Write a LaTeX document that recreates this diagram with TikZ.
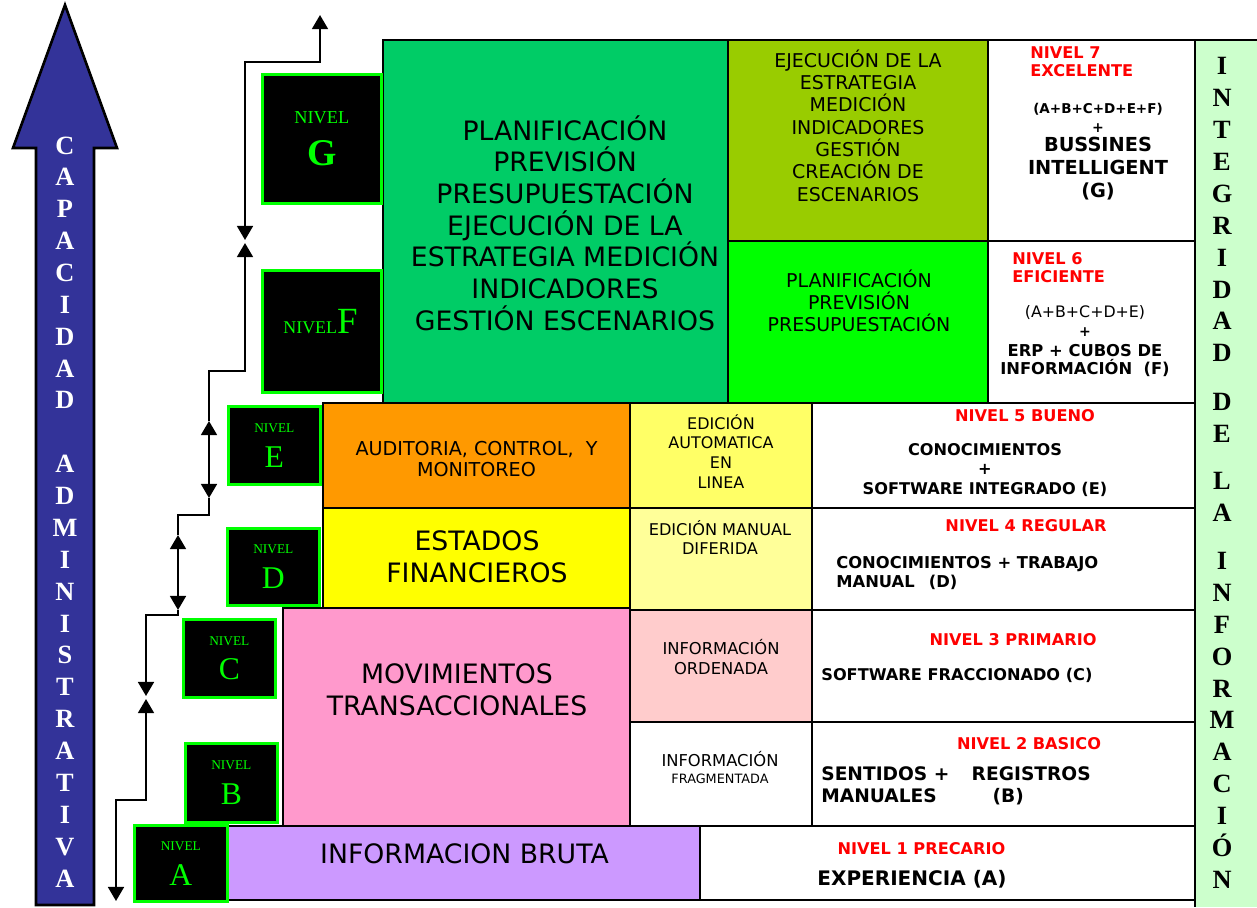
\documentclass[tikz,border=0pt]{standalone}
\usepackage{fontspec}
\setmainfont{DejaVu Sans}
\newfontfamily\timesf{Liberation Serif}
\usetikzlibrary{arrows.meta}

\definecolor{verdeplan}{HTML}{00CC66}
\definecolor{oliva}{HTML}{99CC00}
\definecolor{verdevivo}{HTML}{00FF00}
\definecolor{naranja}{HTML}{FF9900}
\definecolor{amarillo}{HTML}{FFFF00}
\definecolor{amarillob}{HTML}{FFFF66}
\definecolor{amarilloc}{HTML}{FFFF99}
\definecolor{rosa}{HTML}{FF99CC}
\definecolor{rosab}{HTML}{FFCCCC}
\definecolor{lila}{HTML}{CC99FF}
\definecolor{verdeclaro}{HTML}{CCFFCC}
\definecolor{azul}{HTML}{333399}
\definecolor{rojo}{HTML}{FF0000}

\tikzset{punta/.tip={Triangle[width=9pt,length=8pt]}}

\begin{document}
\begin{tikzpicture}[
    x=0.02cm, y=-0.02cm,
    cell/.style={rectangle, draw=black, line width=1.5pt, inner sep=0pt, outer sep=0pt, anchor=north west},
    sz/.style 2 args={minimum width=#1*0.02cm, minimum height=#2*0.02cm},
    nivel/.style={rectangle, fill=black, draw=verdevivo, line width=1.5pt, inner sep=0pt,
                  anchor=north west, text=verdevivo},
    txt/.style={inner sep=0pt, align=center},
    grande/.style={txt, anchor=north, font=\fontsize{15.2}{18.05}\selectfont},
    medio/.style={txt, anchor=north, font=\fontsize{10.8}{12.7}\selectfont},
    chico/.style={txt, anchor=north, font=\fontsize{9.2}{11.2}\selectfont},
    titulo/.style={inner sep=0pt, text=rojo, font=\bfseries\fontsize{9.2}{10.3}\selectfont},
    negrita/.style={inner sep=0pt, font=\bfseries\fontsize{9.2}{11}\selectfont},
    vertical/.style={inner sep=0pt, align=center, anchor=north,
                     font=\timesf\bfseries\fontsize{15}{18.14}\selectfont},
    arrow/.style={line width=1.3pt}
]
    \useasboundingbox (0,0) rectangle (1257,907);

    % Side bars
    \draw[fill=azul, line width=1.5pt] (36,905) -- (36,148) -- (13,148) -- (65,5)
        -- (117,148) -- (94,148) -- (94,905) -- cycle;
    \node (capacidad) [vertical, text=white] at (65,136.2)
        {C\\A\\P\\A\\C\\I\\D\\A\\D\\[18.14pt]A\\D\\M\\I\\N\\I\\S\\T\\R\\A\\T\\I\\V\\A};
    \fill[verdeclaro] (1195,40) rectangle (1257,907);
    \draw[line width=1.5pt] (1257,40) -- (1195,40) -- (1195,907);
    \node (integridad) [vertical] at (1222,57.3)
        {I\\N\\T\\E\\G\\R\\I\\D\\A\\D\\[9.4pt]D\\E\\[9.1pt]L\\A\\[9.1pt]I\\N\\F\\O\\R\\M\\A\\C\\I\\Ó\\N};

    % Cells
    \node (gPlan) [cell, fill=verdeplan, sz={345}{363}] at (383,40) {};
    \node (gEjec) [cell, fill=oliva, sz={260}{201}] at (728,40) {};
    \node (gNivel) [cell, fill=white, sz={207}{201}] at (988,40) {};
    \node (fPlan) [cell, fill=verdevivo, sz={260}{162}] at (728,241) {};
    \node (fNivel) [cell, fill=white, sz={207}{162}] at (988,241) {};
    \node (eAudit) [cell, fill=naranja, sz={307}{105}] at (323,403) {};
    \node (eEdic) [cell, fill=amarillob, sz={182}{105}] at (630,403) {};
    \node (eNivel) [cell, fill=white, sz={383}{105}] at (812,403) {};
    \node (dEstados) [cell, fill=amarillo, sz={307}{100}] at (323,508) {};
    \node (dEdic) [cell, fill=amarilloc, sz={182}{102}] at (630,508) {};
    \node (dNivel) [cell, fill=white, sz={383}{102}] at (812,508) {};
    \node (cMov) [cell, fill=rosa, sz={347}{218}] at (283,608) {};
    \node (cInfo) [cell, fill=rosab, sz={182}{112}] at (630,610) {};
    \node (cNivel) [cell, fill=white, sz={383}{112}] at (812,610) {};
    \node (bInfo) [cell, fill=white, sz={182}{104}] at (630,722) {};
    \node (bNivel) [cell, fill=white, sz={383}{104}] at (812,722) {};
    \node (aBruta) [cell, fill=lila, sz={472}{74}] at (228,826) {};
    \node (aNivel) [cell, fill=white, sz={495}{74}] at (700,826) {};

    % Cell texts
    \node (tPlan) [grande] at (565,115) {PLANIFICACIÓN\\PREVISIÓN\\PRESUPUESTACIÓN\\EJECUCIÓN DE LA\\ESTRATEGIA MEDICIÓN\\INDICADORES\\GESTIÓN ESCENARIOS};
    \node (tEjec) [medio] at (858,49.4) {EJECUCIÓN DE LA\\ESTRATEGIA\\MEDICIÓN\\INDICADORES\\GESTIÓN\\CREACIÓN DE\\ESCENARIOS};
    \node (tPrev) [medio] at (859,269.4) {PLANIFICACIÓN\\PREVISIÓN\\PRESUPUESTACIÓN};
    \node (tAudit) [medio, font=\fontsize{10.9}{11.9}\selectfont] at (476.5,441) {AUDITORIA, CONTROL,\ \ Y\\MONITOREO};
    \node (tAuto) [chico, font=\fontsize{9.1}{11.15}\selectfont] at (721,414.1) {EDICIÓN\\AUTOMATICA\\EN\\LINEA};
    \node (tManual) [chico, font=\fontsize{9.2}{10.8}\selectfont] at (720,520) {EDICIÓN MANUAL\\DIFERIDA};
    \node (tEstados) [grande] at (477,530.25) {ESTADOS\\FINANCIEROS};
    \node (tMov) [grande] at (457,663.25) {MOVIMIENTOS\\TRANSACCIONALES};
    \node (tOrden) [chico, font=\fontsize{9.3}{11.3}\selectfont] at (721,638.9) {INFORMACIÓN\\ORDENADA};
    \node (tFrag) [chico, font=\fontsize{9.3}{10}\selectfont] at (720,750.9) {INFORMACIÓN\\{\fontsize{7.3}{8}\selectfont FRAGMENTADA}};
    \node (tBruta) [txt, anchor=base, font=\fontsize{15.2}{18}\selectfont] at (464.5,863.75) {INFORMACION BRUTA};

    % Level descriptions
    \node (n7) [titulo, align=left, anchor=north west] at (1030,46) {NIVEL 7\\EXCELENTE};
    \node (f7) [negrita, font=\bfseries\fontsize{7.7}{9}\selectfont, anchor=base] at (1098,113) {(A+B+C+D+E+F)};
    \node (mas7) [negrita, font=\bfseries\fontsize{8}{9}\selectfont, anchor=base] at (1098,132) {+};
    \node (bi7) [negrita, align=center, anchor=north, font=\bfseries\fontsize{11}{13}\selectfont] at (1098,137) {BUSSINES\\INTELLIGENT\\(G)};

    \node (n6) [titulo, align=left, anchor=north west] at (1012,252) {NIVEL 6\\EFICIENTE};
    \node (f6) [txt, anchor=base, font=\fontsize{9}{11}\selectfont] at (1085,317.8) {(A+B+C+D+E)};
    \node (mas6) [negrita, font=\bfseries\fontsize{8}{9}\selectfont, anchor=base] at (1085,336.8) {+};
    \node (erp6) [negrita, align=center, anchor=north, font=\bfseries\fontsize{9.3}{10.2}\selectfont] at (1085,344) {ERP + CUBOS DE\\INFORMACIÓN\ \ (F)};

    \node (n5) [titulo, anchor=base] at (1025,421.85) {NIVEL 5 BUENO};
    \node (con5) [negrita, align=center, anchor=north] at (985,443.1) {CONOCIMIENTOS\\+\\SOFTWARE INTEGRADO (E)};

    \node (n4) [titulo, anchor=base] at (1026,531.85) {NIVEL 4 REGULAR};
    \node (con4) [negrita, align=left, anchor=north west, font=\bfseries\fontsize{9.3}{10.8}\selectfont] at (836,556.1) {CONOCIMIENTOS + TRABAJO\\\makebox[52.7pt][l]{MANUAL}(D)};

    \node (n3) [titulo, anchor=base] at (1013,645.85) {NIVEL 3 PRIMARIO};
    \node (sw3) [negrita, anchor=base west] at (821,680.9) {SOFTWARE FRACCIONADO (C)};

    \node (n2) [titulo, anchor=base] at (1029,749.85) {NIVEL 2 BASICO};
    \node (sen2) [negrita, align=left, anchor=north west, font=\bfseries\fontsize{10.6}{12.5}\selectfont] at (821,766.2) {\makebox[85.6pt][l]{SENTIDOS +}REGISTROS\\\makebox[97.5pt][l]{MANUALES}(B)};

    \node (n1) [titulo, anchor=base] at (921.5,854.85) {NIVEL 1 PRECARIO};
    \node (exp1) [negrita, anchor=base, font=\bfseries\fontsize{11.4}{13}\selectfont] at (912,885.3) {EXPERIENCIA (A)};

    % Level boxes
    \node (nivG) [nivel, align=center, sz={119}{129}, font=\timesf\fontsize{21.5}{23.5}\selectfont] at (261,73) {{\fontsize{10.4}{12}\selectfont NIVEL}\\\textbf{G}};
    \node (nivF) [nivel, sz={119}{122}] at (261,269) {};
    \node (tF) [txt, anchor=base, text=verdevivo, font=\timesf\fontsize{21}{24}\selectfont] at (320.5,333) {{\fontsize{10.2}{12}\selectfont NIVEL}F};
    \node (nivE) [nivel, align=center, sz={92}{78}, font=\timesf\fontsize{18}{19.8}\selectfont] at (227,405) {{\fontsize{7.6}{9}\selectfont NIVEL}\\E};
    \node (nivD) [nivel, align=center, sz={92}{77}, font=\timesf\fontsize{18}{19.8}\selectfont] at (226,527) {{\fontsize{7.6}{9}\selectfont NIVEL}\\D};
    \node (nivC) [nivel, align=center, sz={92}{78}, font=\timesf\fontsize{18}{19.8}\selectfont] at (182,618) {{\fontsize{7.6}{9}\selectfont NIVEL}\\C};
    \node (nivB) [nivel, align=center, sz={92}{79}, font=\timesf\fontsize{18}{19.8}\selectfont] at (184,742) {{\fontsize{7.6}{9}\selectfont NIVEL}\\B};
    \node (nivA) [nivel, align=center, sz={93}{76}, font=\timesf\fontsize{18}{19.8}\selectfont] at (133,824) {{\fontsize{7.6}{9}\selectfont NIVEL}\\A};

    % Arrows
    \coordinate (a0) at (116,901);
    \coordinate (a1) at (146,699);
    \coordinate (a2) at (146,696);
    \coordinate (a3) at (178,610);
    \coordinate (a4) at (178,535);
    \coordinate (a5) at (209,498);
    \coordinate (a6) at (209,421);
    \coordinate (a7) at (245,243);
    \coordinate (a8) at (245,240);
    \coordinate (a9) at (320,15);

    \draw [arrow, {punta}-{punta}] (a0) |- (146,800) -- (a1);
    \draw [arrow, -{punta}] (a3) -- (178,615) -| (a2);
    \draw [arrow, {punta}-{punta}] (a4) -- (a3);
    \draw [arrow] (a4) |- (209,515) -- (a5);
    \draw [arrow, {punta}-{punta}] (a6) -- (a5);
    \draw [arrow, -{punta}] (a6) |- (245,371) -- (a7);
    \draw [arrow, {punta}-{punta}] (a8) |- (320,62) -- (a9);

\end{tikzpicture}
\end{document}
